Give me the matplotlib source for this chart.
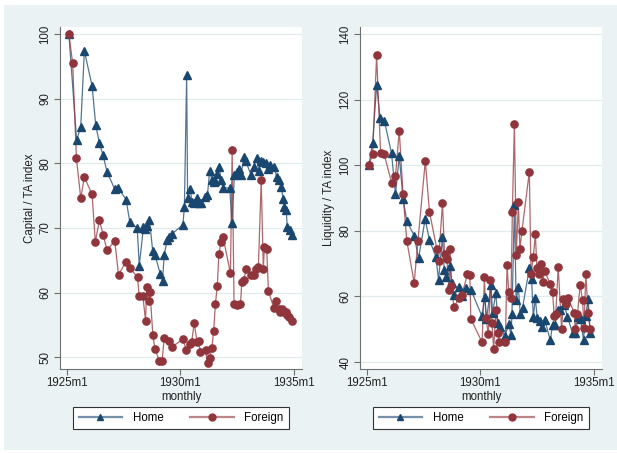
import numpy as np
import matplotlib.pyplot as plt
from matplotlib.patches import Rectangle
from matplotlib.lines import Line2D
from matplotlib.colors import to_rgba

plt.rcParams['font.family'] = ['Liberation Sans', 'DejaVu Sans']

# months counted from 1925m1
cap_home_m = [1, 5.1, 7.3, 9.2, 13.3, 15.2, 17.2, 19.1, 21.2, 25.3, 27.2, 31.3, 33.3, 37.2, 38.3,
              40.5, 41.4, 42.3, 43.7, 45.4, 46.6, 49.4, 50.6, 51.5, 53.1, 54.2, 55.6, 61.4, 62.2,
              63.4, 63.9, 65.3, 66.2, 67.5, 68.8, 70, 71, 73.3, 74.4, 75.6, 76.8, 77.8, 78.6, 79.5,
              80.7, 81.5, 82.7, 86.2, 87.4, 88.7, 90, 91.2, 92.2, 93.7, 94.8, 97.5, 98.9, 100.4,
              101.6, 102.6, 104, 105.2, 106.4, 107.8, 109.9, 111, 112.2, 113.5, 114.5, 115.2,
              116.1, 116.7, 117.9, 119]
cap_home = [100, 83.6, 85.7, 97.4, 92, 86, 83.1, 81.3, 78.7, 76, 76.2, 74.4, 70.9, 70, 64.2,
            70.1, 69.9, 70.3, 71.2, 66.5, 65.9, 62.9, 61.8, 65.9, 68.1, 68.6, 69.1, 70.5, 73.3,
            93.7, 74.6, 76.1, 74.0, 73.8, 74.6, 73.8, 73.8, 74.8, 75.1, 78.9, 77.4, 77.1, 77.3, 78.4,
            79.5, 77.4, 76.2, 76.2, 70.8, 78.2, 78.6, 79.1, 78.2, 81, 80.3, 78.2, 79.5, 80.8,
            78.9, 80.3, 80.2, 80, 79.1, 79.8, 79.5, 77.9, 77.4, 76.4, 74.5, 73.3,
            72.8, 70.2, 69.7, 69]

cap_for_m = [1, 3, 5, 7.3, 9.2, 13.3, 15, 17.2, 19.1, 21.2, 25.3, 27.3, 31.3, 33.3, 37.4, 38.2,
             40.2, 41.6, 42.3, 43.5, 44, 45.5, 46.6, 48.9, 50.4, 51.5, 53.8, 55.6, 61.3, 63.2, 65,
             66, 67.4, 68.9, 69.7, 70.6, 73.4, 74.5, 75.6, 76.8, 77.7, 78.6, 79.6, 80.5, 81.5,
             82.7, 86.6, 87.5, 88.5, 90.1, 91.9, 92.6, 93.6, 94.9, 97.5, 98.9, 100, 101.4, 102.9,
             104, 104.6, 105.8, 106.7, 109.6, 110.8, 112.2, 113.1, 114, 114.9, 116.1, 116.7,
             117.5, 119]
cap_for = [100, 95.5, 80.8, 74.6, 77.9, 75.2, 67.9, 71.2, 69, 66.6, 68, 62.8, 64.8, 63.8, 62.4, 59.5,
           59.5, 55.7, 60.9, 58.7, 60.1, 53.4, 51.3, 49.5, 49.5, 53, 52.6, 51.6, 52.8, 51.2, 52.1,
           52.3, 55.3, 52.4, 52.6, 50.9, 51.1, 49.1, 49.9, 51.5, 54.1, 58.2, 61, 66, 67.8,
           68.6, 63, 82, 58.2, 58.1, 58.2, 61.6, 62, 63.6, 62.7, 62.7, 63.6, 64, 77.4,
           63.7, 67.1, 66.8, 60.3, 57.6, 58.7, 57.5, 57.0, 57.5, 57.0, 57.0, 56.6,
           56.2, 55.6]

liq_home_m = [1, 3, 5.1, 6.9, 9.2, 13, 15.1, 17.1, 19.1, 21.1, 25, 27.3, 30.8, 33.1, 36.5, 37.9,
              40, 40.9, 41.9, 44.1, 45, 46.1, 49, 50.2, 52.3, 55.1, 60.8, 62.5, 63.3, 65.7, 66.5,
              68.3, 69.3, 70.5, 73.1, 75.1, 76.3, 76.8, 78.1, 79, 80.2, 81.2, 82.4, 86, 87.2, 88.1,
              89.2, 90.2, 91.4, 92.7, 94.2, 97.1, 98.3, 99.5, 101, 102.3, 104.5, 106.2, 108.9,
              110.2, 112, 113.2, 114.7, 115.8, 117.2, 118.2]
liq_home = [100, 106.7, 124.5, 114.5, 113.5, 103.6, 91.1, 102.7, 89.7, 83, 78.5, 71.6, 83.5, 77.2,
            72.1, 65, 78.2, 68, 66, 69.3, 64, 60.4, 62.8, 60.2, 62.5, 62, 54.1, 59.7, 53, 63.5, 55,
            61.1, 52, 50.6, 47.9, 51.6, 48.2, 54.6, 87.9, 58.9, 62.8, 54.8, 56.5, 68.6, 65.2, 53.8,
            59.4, 53.3, 52.6, 50.6, 52.8, 46.7, 51.3, 51.3, 55.8, 55.9, 57.4, 53.8, 48.9,
            49, 53.6, 53, 46.7, 54, 59.2, 48.8]

liq_for_m = [1, 3, 5.1, 7.2, 9.1, 13, 15.1, 17.1, 19.1, 21.1, 25, 27, 30.9, 33.1, 37, 37.9, 40,
             41.1, 42.3, 43.5, 44.1, 44.6, 46.1, 48.8, 50.2, 53.2, 54.5, 55, 61, 62.2, 63, 64.3,
             65.4, 66.2, 67.1, 68.3, 69.6, 70.1, 73.3, 74.2, 75.1, 76.3, 77, 78.1, 79.1, 80.2, 81,
             82.1, 86, 86.9, 88.1, 89.2, 90, 91.3, 92.1, 93, 94.2, 97.1, 98.3, 99.2, 100, 101.3,
             103.1, 104.1, 105.3, 106.6, 109.8, 110.3, 111.5, 112.9, 114.2, 115, 115.9, 117.2,
             118.2]
liq_for = [100, 103.3, 133.6, 103.8, 103.4, 94.7, 96.7, 110.5, 91.1, 76.9, 64.2, 77, 101.3, 85.8,
           74.5, 70.8, 88.4, 72.8, 71.3, 62, 74.5, 63.2, 56.9, 59.4, 60.4, 66.7, 66.5, 53.2, 46,
           65.8, 53.3, 48.5, 65, 51.8, 44, 55.9, 48.9, 46, 46, 69.6, 61.4, 59.6, 85.6, 112.6,
           72.6, 88.7, 74.5, 80, 98, 66.7, 72.1, 78.9, 68.8, 66.8, 69.8, 64.3, 67.7, 63.8, 61.4,
           54, 54.6, 69.1, 50, 59.2, 57.7, 59.5, 55, 50, 54.6, 63.5, 58.9, 50.3, 66.8, 55, 50]

x_ticks = [0, 60, 120]
x_labels = ['1925m1', '1930m1', '1935m1']

navy = '#1a476f'
maroon = '#90353b'
bg = '#eaf2f3'

fig = plt.figure(figsize=(6.17, 4.53), dpi=100, facecolor='white')
# light blue-grey graph region
fig.patches.append(Rectangle((4 / 617, 3 / 453), 613 / 617, 445 / 453,
                             transform=fig.transFigure, facecolor=bg, edgecolor='none', zorder=-10))


def panel(rect, hm, hv, fm, fv, yticks, ylim, ylabel, legx):
    ax = fig.add_axes(rect)
    ax.set_facecolor('white')
    for m, v, c, mk in [(hm, hv, navy, '^'), (fm, fv, maroon, 'o')]:
        ax.plot(m, v, color=c, lw=0.9, alpha=0.75, zorder=2)
        ax.plot(m, v, linestyle='none', marker=mk, color=c, markersize=5.2, zorder=3)
    ax.set_xlim(-3.7, 124.5)
    ax.set_ylim(*ylim)
    ax.set_xticks(x_ticks)
    ax.set_xticklabels(x_labels)
    ax.set_yticks(yticks)
    ax.set_yticklabels([str(t) for t in yticks], rotation=90, va='center')
    ax.grid(axis='y', color='#e1ebee', lw=0.9, zorder=1)
    ax.set_axisbelow(True)
    for s in ['top', 'right']:
        ax.spines[s].set_visible(False)
    for s in ['left', 'bottom']:
        ax.spines[s].set_color('#707070')
        ax.spines[s].set_linewidth(0.8)
    ax.tick_params(length=4, width=0.8, color='#707070', labelsize=8.3, labelcolor='#222222', pad=2)
    ax.set_xlabel('monthly', fontsize=8.3, color='#222222', labelpad=1)
    ax.set_ylabel(ylabel, fontsize=8.3, color='#222222', labelpad=3)

    # legend keys: pale line, solid marker
    handles = [Line2D([], [], color=to_rgba(navy, 0.6), lw=1.6, marker='^', markersize=5,
                      markerfacecolor=navy, markeredgecolor=navy),
               Line2D([], [], color=to_rgba(maroon, 0.6), lw=1.6, marker='o', markersize=5,
                      markerfacecolor=maroon, markeredgecolor=maroon)]
    leg = ax.legend(handles, ['Home', 'Foreign'], ncol=2, loc='center',
                    bbox_to_anchor=(legx, 1 - 418 / 453), bbox_transform=fig.transFigure,
                    fontsize=8.3, frameon=True, fancybox=False, edgecolor='#333333',
                    handlelength=3.8, handletextpad=0.9, columnspacing=2.3,
                    borderpad=0.45, framealpha=1)
    leg.get_frame().set_linewidth(0.8)
    return ax


h = (369 - 27) / 453
b = 1 - 369 / 453
panel([60 / 617, b, 242 / 617, h], cap_home_m, cap_home, cap_for_m, cap_for,
      [50, 60, 70, 80, 90, 100], (48.2, 101.1), 'Capital / TA index', 181 / 617)
panel([360 / 617, b, 242 / 617, h], liq_home_m, liq_home, liq_for_m, liq_for,
      [40, 60, 80, 100, 120, 140], (37.9, 142.1), 'Liquidity / TA index', 481 / 617)

fig.savefig('out.png', dpi=100, facecolor=fig.get_facecolor())
